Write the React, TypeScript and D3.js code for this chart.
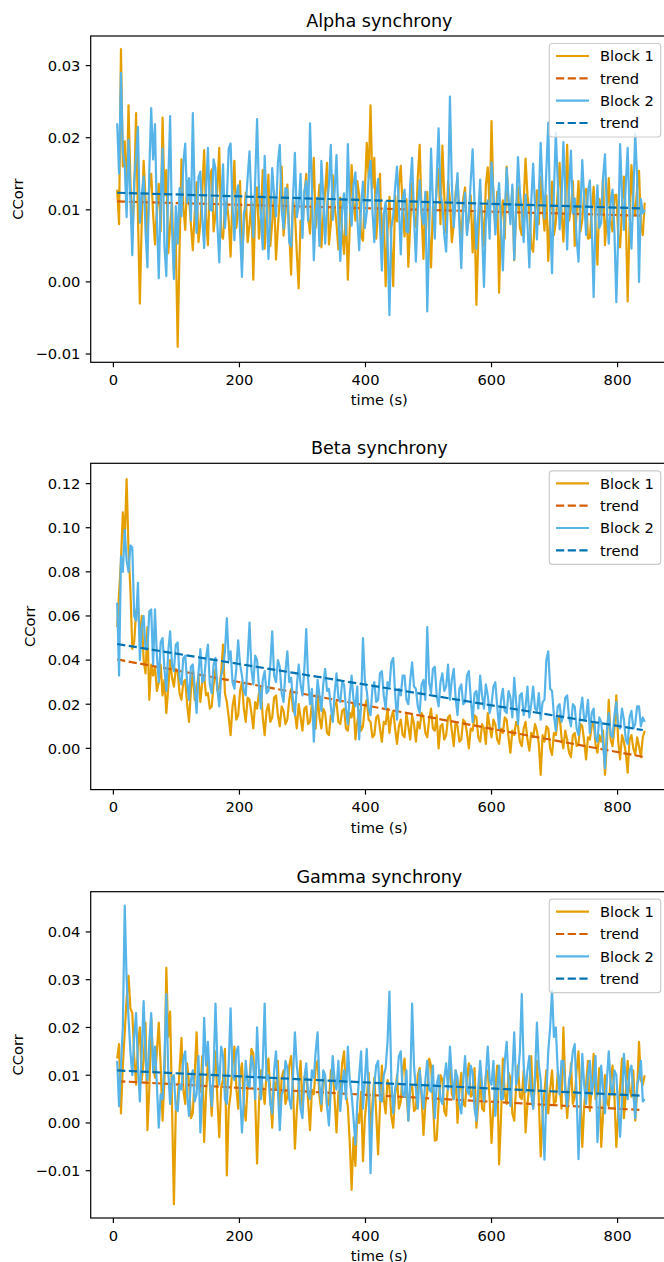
import React, { useEffect } from 'react';
import * as d3 from 'd3';

// sample times (s), one window every 3 s
const times = d3.range(6, 846, 3);

// CCorr values in units of 1e-3 (20 values = 60 s per row)
const alphaB1 = [
  12.8, 8.0, 32.3, 16.0, 19.5, 11.0, 24.5, 14.0, 6.0, 12.5, 23.4, 9.0, -3.0, 8.5, 16.8, 11.5, 6.2, 13.0, 15.0, 9.5,
  5.2, 10.0, 13.6, 7.0, 22.8, 12.0, 15.5, 4.0, 7.8, 11.0, 1.5, 6.0, -9.0, 4.5, 17.0, 10.5, 7.2, 14.0, 11.6, 8.0,
  4.4, 9.5, 13.8, 5.5, 8.2, 12.5, 18.3, 9.0, 5.1, 14.5, 15.6, 7.0, 9.4, 13.0, 18.6, 6.5, 6.0, 10.5, 11.2, 8.5,
  3.5, 12.0, 16.8, 7.5, 9.7, 14.0, 2.8, 8.0, 12.4, 5.5, 7.9, 11.0, 0.3, 10.0, 13.1, 6.0, 9.0, 15.5, 4.6, 9.5,
  14.9, 5.0, 8.2, 12.5, 3.1, 7.5, 11.6, 16.0, 6.4, 9.5, 13.5, 7.0, 1.0, 11.5, 9.8, 4.0, -0.9, 8.5, 7.3, 12.0,
  15.0, 9.0, 6.7, 12.0, 17.2, 7.5, 10.1, 13.5, 4.8, 9.0, 12.6, 16.5, 5.2, 8.0, 14.8, 10.5, 8.1, 4.5, 11.7, 7.0,
  3.9, 10.0, 0.3, 7.5, 16.2, 11.0, 8.5, 14.0, 12.0, 6.5, 5.7, 12.5, 19.3, 14.5, 24.5, 13.0, 17.2, 6.0, 9.9, 15.0,
  4.3, 9.5, -0.6, 7.0, 11.8, 5.0, -0.6, 12.0, 8.4, 13.5, 16.1, 10.0, 6.3, 11.5, 2.1, 8.0, 13.7, 9.0, 7.6, 14.5,
  19.0, 9.5, 3.2, 11.0, 12.5, 6.5, 2.0, 10.5, 9.3, 13.0, 15.7, 8.0, 18.9, 12.0, 6.8, 14.0, 11.4, 5.5, 8.0, 12.5,
  14.2, 9.0, 5.5, 11.5, 13.1, 7.0, 8.7, 12.0, 4.1, 9.5, -3.2, 6.0, 12.6, 9.0, 5.0, 13.5, 15.9, 10.0, 22.3, 11.5,
  7.4, 12.5, -1.5, 9.0, 11.3, 6.0, 16.0, 10.5, 8.9, 13.0, 3.0, 9.5, 13.2, 7.5, 6.5, 11.0, 17.1, 12.0, 9.8, 5.0,
  4.2, 9.5, 12.7, 8.0, 14.6, 10.5, 7.1, 12.0, 2.9, 9.0, 13.9, 6.5, 8.3, 12.5, 16.5, 10.0, 5.6, 11.0, 19.0, 8.5,
  10.2, 14.0, 5.0, 9.5, 14.0, 7.0, 8.6, 12.5, 12.9, 6.0, 6.1, 10.0, 13.2, 8.0, 2.4, 11.5, 9.5, 14.5, 5.1, 9.0,
  14.4, 8.5, 7.0, 12.0, 12.1, 6.5, 4.8, 10.0, 14.6, 9.5, -2.7, 8.0, 16.2, 11.0, 9.3, 13.0, 15.4, 8.0, 6.5, 11.0,
];
const alphaB2 = [
  22.0, 15.0, 29.0, 18.0, 16.2, 9.0, 19.7, 11.5, 3.7, 14.0, 17.5, 21.5, 8.2, 12.0, 14.6, 7.0, 2.0, 15.5, 24.1, 17.0,
  21.9, 9.0, 0.5, 11.0, 18.5, 5.0, 0.8, 13.5, 23.0, 7.5, 0.4, 10.5, 5.3, 13.0, 9.1, 16.5, 19.2, 11.0, 14.4, 8.5,
  23.4, 12.0, 6.8, 14.5, 15.3, 9.0, 4.7, 12.5, 18.6, 10.0, 9.9, 17.0, 15.7, 8.0, 2.7, 11.0, 16.3, 7.5, 11.5, 18.5,
  19.2, 10.5, 5.8, 12.0, 13.4, 7.0, 0.7, 9.5, 10.5, 14.5, 18.1, 11.0, 6.2, 14.0, 22.6, 12.5, 9.3, 4.5, 17.5, 11.0,
  3.2, 9.0, 15.8, 12.0, 9.1, 16.5, 19.0, 10.0, 7.4, 13.0, 12.8, 5.5, 4.9, 11.5, 17.9, 9.0, 10.6, 15.0, 6.1, 12.5,
  14.0, 8.5, 22.0, 13.0, 3.0, 9.5, 11.7, 5.0, 16.8, 12.0, 5.3, 10.5, 13.5, 19.0, 8.6, 12.5, 17.6, 9.0, 2.9, 10.0,
  12.3, 6.5, 19.1, 11.0, 7.8, 13.5, 15.2, 9.0, 4.4, 10.5, 13.9, 7.5, 9.6, 14.5, 16.8, 10.0, 5.5, 12.0, 14.3, 8.0,
  1.6, 9.5, 11.1, 6.0, -4.6, 7.5, 9.2, 13.0, 16.0, 10.5, 3.8, 11.5, 12.8, 7.0, 6.9, 13.5, 17.2, 9.0, 2.8, 10.0,
  14.1, 9.5, 8.0, 12.5, -4.1, 6.5, 18.5, 11.0, 6.0, 14.5, 21.3, 12.0, 10.9, 6.5, 4.2, 12.0, 25.7, 13.5, 7.6, 11.5,
  15.1, 8.0, 1.9, 10.0, 12.4, 6.5, 9.2, 14.0, 18.4, 11.0, 4.6, 9.5, 14.2, 7.0, -0.7, 8.5, 11.3, 6.0, 16.6, 12.5,
  6.6, 11.0, 13.7, 8.0, 1.6, 9.5, 15.8, 11.5, 8.0, 13.5, 3.1, 10.0, 17.3, 12.5, 9.8, 5.5, 12.1, 8.0, 2.0, 11.0,
  16.4, 10.5, 5.9, 12.0, 19.3, 13.0, 8.8, 15.5, 22.1, 9.0, 1.2, 12.5, 20.7, 14.0, 7.3, 11.0, 19.4, 12.5, 4.5, 13.0,
  18.2, 9.5, 11.6, 6.0, 2.8, 10.0, 16.9, 11.5, 6.5, 12.5, 14.1, 8.0, -2.1, 9.0, 13.4, 7.5, 8.2, 14.5, 17.7, 10.0,
  5.3, 11.0, 12.8, 7.0, -2.8, 6.5, 19.1, 12.0, 7.2, 13.5, 18.6, 9.5, 4.6, 12.0, 20.6, 14.5, 0.0, 11.5, 9.5, 10.0,
];
const betaB1 = [
  55, 70, 85, 107, 95, 122, 90, 72, 45, 48, 62, 65, 50, 60, 40, 34, 55, 22, 38, 33,
  37, 26, 30, 38, 24, 31, 16, 27, 40, 32, 28, 36, 35, 25, 22, 30, 31, 20, 12, 26,
  35, 22, 27, 33, 21, 30, 33, 24, 25, 18, 19, 29, 36, 26, 28, 34, 47, 25, 21, 14,
  6, 19, 24, 13, 15, 26, 30, 18, 12, 23, 22, 16, 9, 21, 18, 25, 28, 14, 6, 17,
  20, 12, 14, 23, 24, 15, 10, 19, 17, 11, 13, 22, 27, 17, 16, 9, 20, 14, 8, 18,
  19, 11, 12, 20, 15, 9, 25, 14, 9, 18, 16, 7, 6, 15, 13, 20, 21, 12, 11, 17,
  18, 9, 8, 16, 14, 21, 4, 12, 17, 8, 10, 19, 22, 13, 12, 5, 6, 14, 15, 9,
  3, 12, 11, 18, 7, 14, 17, 9, 2, 10, 13, 6, 5, 16, 10, 4, 15, 11, 3, 12,
  9, 16, 14, 7, 5, 13, 18, 9, 8, 15, 0, 10, 11, 4, 6, 14, 15, 8, 1, 12,
  10, 3, 4, 13, 12, 7, 0, 9, 8, 15, 14, 5, 3, 11, 9, 2, 16, 10, 5, 13,
  11, 4, 2, 9, 7, 14, 13, 5, -2, 8, 6, 12, 10, 3, 1, 9, 12, 4, -1, 7,
  5, 11, 8, 2, -12, 6, 3, 10, 9, 0, -3, 7, 6, 13, 15, 5, 0, 8, 4, -2,
  -4, 6, 7, 1, 2, 11, 10, 3, -5, 5, 4, 10, 12, 2, -2, 6, 3, 8, -12, 2,
  22, 4, 1, 9, 24, 3, -5, 6, 3, -2, -11, 4, 6, 0, -3, 5, 1, -4, 5, 8,
];
const betaB2 = [
  66, 33, 87, 80, 99, 85, 80, 92, 91, 60, 58, 75, 40, 55, 60, 45, 45, 62, 63, 38,
  63, 42, 30, 48, 50, 36, 26, 44, 53, 38, 35, 47, 48, 32, 29, 41, 42, 30, 22, 37,
  38, 28, 16, 34, 45, 30, 31, 41, 47, 29, 25, 38, 41, 27, 19, 33, 36, 44, 59, 40,
  44, 30, 27, 36, 49, 38, 33, 26, 24, 40, 57, 36, 29, 42, 40, 28, 18, 31, 35, 25,
  26, 38, 53, 33, 30, 40, 37, 25, 21, 35, 44, 30, 32, 22, 15, 28, 38, 29, 24, 36,
  54, 31, 20, 27, 3, 18, 31, 24, 17, 29, 36, 26, 27, 19, 12, 25, 34, 23, 21, 30,
  29, 18, 11, 24, 33, 22, 19, 28, 4, 20, 50, 31, 26, 18, 15, 27, 30, 21, 22, 34,
  35, 24, 18, 30, 28, 39, 41, 25, 13, 27, 24, 33, 33, 22, 20, 31, 39, 28, 27, 19,
  16, 29, 31, 22, 55, 30, 25, 36, 37, 24, 19, 30, 34, 26, 28, 38, 22, 31, 36, 23,
  15, 27, 29, 20, 21, 33, 35, 23, 12, 25, 26, 18, 33, 24, 18, 29, 24, 16, 20, 28,
  30, 19, 9, 22, 27, 17, 16, 26, 23, 14, 32, 21, 11, 24, 25, 15, 19, 28, 14, 20,
  28, 18, 17, 25, 13, 21, 22, 40, 44, 27, 26, 15, 8, 19, 20, 12, 15, 23, 24, 14,
  10, 20, 19, 9, 6, 17, 23, 13, 14, 22, 7, 16, 18, 5, 3, 14, 12, 2, -9, 8,
  16, 6, 5, 15, 21, 10, 9, 18, 13, 4, 2, 14, 17, 9, 11, 19, 19, 10, 14, 12,
];
const gammaB1 = [
  13.5, 16.5, 2.0, 12.0, 19.0, 26.0, 30.8, 24.0, 23.0, 14.0, 8.0, 16.5, 20.0, 9.0, 13.0, 21.0, -1.5, 7.0, 22.0, 12.5,
  9.5, 15.0, 21.0, 12.0, 0.5, 9.0, 32.5, 18.0, 23.3, 4.0, -17.0, 2.5, 5.0, 11.0, 17.8, 7.0, 4.0, 12.5, 8.5, 1.0,
  2.0, 10.0, 19.0, 8.0, 6.5, 14.0, -4.0, 6.0, 13.0, 8.5, 1.5, 10.0, 15.0, 5.0, -3.0, 7.5, 9.0, 15.5, -11.0, 3.0,
  6.0, 12.0, 16.0, 7.5, 3.0, 10.0, 12.5, 4.0, 0.5, 8.0, 9.0, 15.5, 14.5, 5.0, -8.5, 4.0, 11.0, 7.0, 4.0, 10.5,
  13.5, 6.0, -1.0, 8.5, 7.0, 13.0, 2.0, 9.5, 11.0, 4.0, 5.5, 12.0, 14.0, 7.5, -5.4, 2.5, 8.0, 13.0, 3.0, 9.5,
  10.5, 4.5, -1.5, 7.0, 6.0, 11.5, 13.0, 5.5, 2.5, 9.5, 9.0, 3.5, 4.0, 11.0, 11.5, 5.0, -2.0, 6.5, 7.0, 12.5,
  15.0, 6.0, 3.5, -4.0, -14.0, -3.0, -9.0, 2.0, 0.0, 6.5, -8.0, 1.0, 5.0, 10.5, -3.0, 4.0, 9.5, 2.0, -6.6, 3.5,
  12.0, 5.0, 2.0, 9.0, 7.5, 1.5, -1.0, 6.0, 10.0, 3.0, 4.5, 11.0, 13.5, 6.5, 0.5, 7.0, 8.0, 2.5, 3.0, 10.0,
  11.5, 5.5, -2.5, 4.0, 6.5, 13.5, 12.0, 4.5, -3.7, -3.5, 4.0, 10.0, 9.0, 2.5, 1.5, 8.5, 13.0, 6.0, 5.0, 11.0,
  0.0, 6.5, 10.5, 4.0, 3.5, 9.5, 12.5, 5.5, 6.0, 11.5, -1.0, 4.0, 9.5, 3.0, 2.5, 10.0, 11.0, 5.0, -4.2, 3.5,
  7.0, 12.0, -8.7, 1.0, 13.5, 6.0, 4.0, 10.5, 9.5, 2.0, 0.5, 7.5, 12.0, 5.5, 5.0, 11.0, -2.0, 4.0, 8.0, 14.0,
  3.0, 8.5, 13.0, 5.0, -7.0, 1.5, 6.5, 11.0, 2.0, 7.0, 11.0, 4.0, 4.5, 10.5, 9.0, 3.0, 20.0, 8.0, 1.0, 6.5,
  12.5, 4.0, 5.5, 11.0, 15.0, 6.0, -5.0, 3.5, 8.0, 13.0, 2.5, 7.5, 14.5, 5.0, 6.0, 11.5, -5.0, 2.0, 10.0, 4.5,
  3.5, 9.0, 12.0, 5.5, -5.0, 2.0, 7.5, 13.5, 1.0, 6.0, 13.0, 7.0, 5.5, 11.0, 0.5, 6.5, 17.0, 9.0, 8.0, 10.0,
];
const gammaB2 = [
  13.0, 3.5, 12.0, 20.0, 45.5, 30.0, 22.0, 15.0, 10.0, 18.0, 23.0, 12.0, 4.5, 15.0, 25.5, 14.0, 9.0, 17.0, 23.0, 11.0,
  16.0, 8.0, -1.0, 6.0, 5.0, 13.0, 27.0, 11.0, 4.0, 9.5, 10.0, 3.0, 2.5, 8.0, 7.0, 13.5, 15.0, 6.0, 1.5, 9.0,
  11.0, 4.5, 6.0, 14.0, -2.0, 7.0, 22.0, 12.0, 17.0, 9.0, 3.5, 11.0, 25.0, 13.0, 8.0, 16.0, 14.0, 5.0, 4.0, 12.5,
  24.0, 10.0, 9.0, 15.0, 16.0, 6.0, -2.0, 5.0, 13.0, 8.0, 7.5, 14.0, 12.0, 5.0, 20.0, 11.0, 5.0, 12.0, 25.0, 9.0,
  10.0, 4.0, 2.0, 11.0, 15.0, 7.0, -1.5, 6.0, 7.0, 13.0, 11.5, 5.0, 3.0, 10.0, 19.0, 12.0, 8.5, 3.0, 1.0, 9.5,
  12.5, 6.0, 5.0, 11.0, 9.5, 15.0, 19.0, 8.0, 4.0, 11.0, 10.0, 3.5, -0.5, 7.0, 14.0, 9.0, 7.0, 13.0, 2.5, 8.0,
  11.0, 5.0, 16.0, 9.0, 6.0, 1.0, -4.5, 4.0, 10.0, 15.0, 3.0, 9.0, 15.5, 6.0, -10.5, 2.0, 8.0, 12.0, 13.0, 5.0,
  4.5, 10.0, 11.5, 17.0, 27.5, 9.0, 2.0, 7.0, 9.0, 14.0, 15.0, 6.0, 5.5, 11.0, 0.5, 8.0, 25.0, 12.0, 7.0, 3.0,
  11.0, 6.5, 3.0, 9.0, 13.0, 7.0, 6.5, 12.0, 1.0, 8.0, 10.0, 5.0, 4.0, 9.5, 12.5, 7.0, 16.0, 10.0, 5.0, 11.0,
  9.5, 4.0, 2.0, 8.5, 14.0, 7.0, 6.0, 12.0, 10.5, 3.0, 0.5, 7.5, 13.0, 8.0, 4.5, 10.0, 16.0, 9.0, 8.0, 13.0,
  1.5, 7.0, 12.0, 5.0, 5.0, 13.0, 17.0, 9.0, 3.5, 10.0, 19.0, 8.0, 10.0, 15.0, 27.0, 12.0, 6.5, 11.0, 14.0, 6.0,
  3.0, 10.0, 21.0, 12.0, 9.0, 2.0, -7.7, 6.0, 15.0, 20.0, 27.8, 18.0, 20.0, 11.0, 6.0, 13.0, 13.0, 7.0, 3.5, 9.0,
  11.0, 15.0, 16.5, 6.0, -7.6, 3.0, 14.5, 8.0, 4.0, 10.0, 13.0, 6.0, 8.5, 14.0, -4.0, 3.0, 12.0, 7.0, 2.0, 9.0,
  15.0, 8.0, 6.0, 11.0, 10.0, 3.0, -2.9, 5.0, 14.5, 9.0, 5.0, 11.0, 12.0, 6.0, 1.0, 8.0, 9.5, 13.0, 4.5, 5.0,
];

// linear trend lines: value at first and last sample (same 1e-3 units)
const trendTimes = [6, 840];
const alphaTrend1 = [11.16, 9.18];
const alphaTrend2 = [12.37, 10.2];
const betaTrend1 = [40.3, -3.8];
const betaTrend2 = [47.3, 8.3];
const gammaTrend1 = [8.77, 2.7];
const gammaTrend2 = [11.0, 5.7];

const alphaTicks = [-0.01, 0, 0.01, 0.02, 0.03];
const betaTicks = [0, 0.02, 0.04, 0.06, 0.08, 0.1, 0.12];
const gammaTicks = [-0.01, 0, 0.01, 0.02, 0.03, 0.04];
const timeTicks = [0, 200, 400, 600, 800];

const legendLabels = ['Block 1', 'trend', 'Block 2', 'trend'];

const W = 664;
const H = 1262;
const left = 90.7;
const right = 668;
const plotH = 326.3;
const font = 'DejaVu Sans, sans-serif';
const fs = 14.7;

const colB1 = '#E69F00';
const colT1 = '#D55E00';
const colB2 = '#56B4E9';
const colT2 = '#0072B2';

const toCorr = (v: number) => v / 1000;

const panels = [
  { title: 'Alpha synchrony', b1: alphaB1, b2: alphaB2, t1: alphaTrend1, t2: alphaTrend2, ticks: alphaTicks, domain: [-0.01115, 0.03411], top: 36, ylabX: 23 },
  { title: 'Beta synchrony', b1: betaB1, b2: betaB2, t1: betaTrend1, t2: betaTrend2, ticks: betaTicks, domain: [-0.0187, 0.1292], top: 463.3, ylabX: 34.5 },
  { title: 'Gamma synchrony', b1: gammaB1, b2: gammaB2, t1: gammaTrend1, t2: gammaTrend2, ticks: gammaTicks, domain: [-0.0199, 0.04843], top: 891.7, ylabX: 23 },
];

const x = d3.scaleLinear().domain([-36, 880]).range([left, right]);
const fmt = d3.format('.2f');

function Panel({ p }: { p: typeof panels[number] }) {
  const bottom = p.top + plotH;
  const y = d3.scaleLinear().domain(p.domain).range([bottom, p.top]);
  const line = d3.line<[number, number]>().x(d => x(d[0])).y(d => y(d[1]));
  const series = (vals: number[], ts: number[]) => line(vals.map((v, i) => [ts[i], toCorr(v)] as [number, number])) || '';
  const dash = '8.2,3.5';
  const cx = (left + right) / 2;
  const legTop = p.top + 7.5;
  const rows = [20, 42.3, 64.7, 87];
  const legendStyles = [
    { c: colB1, d: undefined },
    { c: colT1, d: dash },
    { c: colB2, d: undefined },
    { c: colT2, d: dash },
  ];
  return (
    <g>
      <path d={series(p.b1, times)} fill="none" stroke={colB1} strokeWidth={2.2} strokeLinejoin="round" />
      <path d={series(p.t1, trendTimes)} fill="none" stroke={colT1} strokeWidth={2.2} strokeDasharray={dash} />
      <path d={series(p.b2, times)} fill="none" stroke={colB2} strokeWidth={2.2} strokeLinejoin="round" />
      <path d={series(p.t2, trendTimes)} fill="none" stroke={colT2} strokeWidth={2.2} strokeDasharray={dash} />

      <rect x={left} y={p.top} width={right - left} height={plotH} fill="none" stroke="#000" strokeWidth={1.2} />

      {p.ticks.map(t => (
        <g key={t}>
          <line x1={left - 5} x2={left} y1={y(t)} y2={y(t)} stroke="#000" strokeWidth={1.2} />
          <text x={left - 10.3} y={y(t)} dy="0.36em" textAnchor="end" fontSize={fs} fontFamily={font}>{fmt(t)}</text>
        </g>
      ))}
      {timeTicks.map(t => (
        <g key={t}>
          <line x1={x(t)} x2={x(t)} y1={bottom} y2={bottom + 5} stroke="#000" strokeWidth={1.2} />
          <text x={x(t)} y={bottom + 22.7} textAnchor="middle" fontSize={fs} fontFamily={font}>{t}</text>
        </g>
      ))}

      <text x={cx} y={p.top - 9} textAnchor="middle" fontSize={17.6} fontFamily={font}>{p.title}</text>
      <text x={cx} y={bottom + 43} textAnchor="middle" fontSize={fs} fontFamily={font}>time (s)</text>
      <text transform={`translate(${p.ylabX},${(p.top + bottom) / 2}) rotate(-90)`} textAnchor="middle" fontSize={fs} fontFamily={font}>CCorr</text>

      <rect x={549.3} y={legTop} width={111.4} height={93.5} rx={3} fill="#fff" fillOpacity={0.8} stroke="#ccc" strokeWidth={1.2} />
      {legendLabels.map((lab, i) => (
        <g key={i}>
          <line x1={556} x2={589} y1={p.top + rows[i]} y2={p.top + rows[i]} stroke={legendStyles[i].c} strokeWidth={2.2} strokeDasharray={legendStyles[i].d} />
          <text x={600} y={p.top + rows[i] + 5.2} fontSize={fs} fontFamily={font}>{lab}</text>
        </g>
      ))}
    </g>
  );
}

export default function App() {
  useEffect(() => {
    document.body.style.margin = '0';
  }, []);
  return (
    <svg width={W} height={H} style={{ display: 'block', background: '#fff' }}>
      {panels.map(p => <Panel key={p.title} p={p} />)}
    </svg>
  );
}
